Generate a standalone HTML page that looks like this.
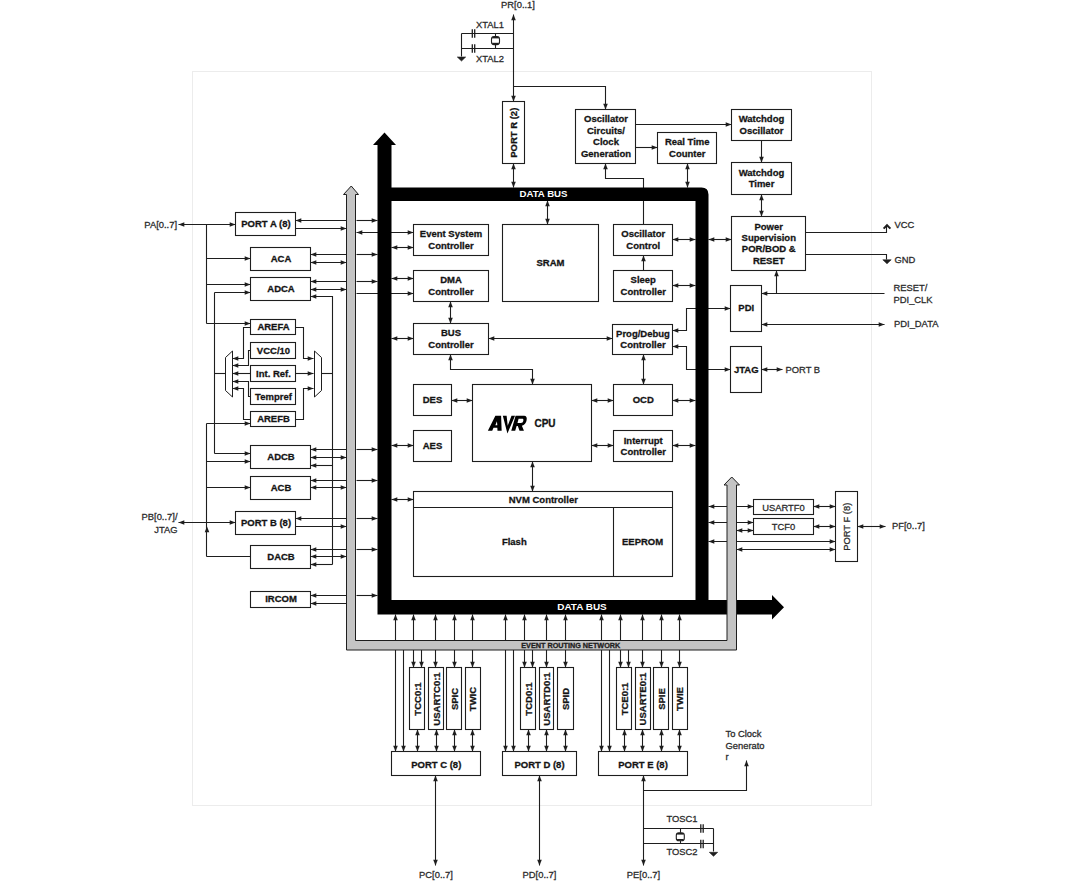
<!DOCTYPE html>
<html><head><meta charset="utf-8"><style>
html,body{margin:0;padding:0;background:#fff;}
body{width:1080px;height:882px;overflow:hidden;}
svg{display:block;font-family:"Liberation Sans",sans-serif;}
</style></head><body>
<svg width="1080" height="882" viewBox="0 0 1080 882">
<rect width="1080" height="882" fill="#fff"/>
<rect x="192.5" y="71.5" width="679" height="734" fill="none" stroke="#ececec" stroke-width="1"/>
<text x="177" y="228" font-size="9.4" text-anchor="end" fill="#2b2b2b" stroke="#2b2b2b" stroke-width="0.28">PA[0..7]</text>
<polyline points="178.5,224.5 235.5,224.5" fill="none" stroke="#1e1e1e" stroke-width="1.1"/>
<polygon points="178.5,224.5 184.3,222.2 184.3,226.8" fill="#1e1e1e"/>
<polygon points="235.5,224.5 229.7,226.8 229.7,222.2" fill="#1e1e1e"/>
<polyline points="206.5,224.5 206.5,323.5" fill="none" stroke="#1e1e1e" stroke-width="1.1"/>
<polyline points="206.5,258.5 250.5,258.5" fill="none" stroke="#1e1e1e" stroke-width="1.1"/>
<polygon points="250.5,258.5 244.7,260.8 244.7,256.2" fill="#1e1e1e"/>
<polyline points="206.5,284.5 250.5,284.5" fill="none" stroke="#1e1e1e" stroke-width="1.1"/>
<polygon points="250.5,284.5 244.7,286.8 244.7,282.2" fill="#1e1e1e"/>
<polyline points="206.5,323.5 250.5,323.5" fill="none" stroke="#1e1e1e" stroke-width="1.1"/>
<polygon points="250.5,323.5 244.7,325.8 244.7,321.2" fill="#1e1e1e"/>
<polyline points="214.5,292.5 214.5,453.5" fill="none" stroke="#1e1e1e" stroke-width="1.1"/>
<polyline points="214.5,292.5 250.5,292.5" fill="none" stroke="#1e1e1e" stroke-width="1.1"/>
<polygon points="250.5,292.5 244.7,294.8 244.7,290.2" fill="#1e1e1e"/>
<polyline points="214.5,373.5 225.5,373.5" fill="none" stroke="#1e1e1e" stroke-width="1.1"/>
<polyline points="214.5,453.5 250.5,453.5" fill="none" stroke="#1e1e1e" stroke-width="1.1"/>
<polygon points="250.5,453.5 244.7,455.8 244.7,451.2" fill="#1e1e1e"/>
<polyline points="206.5,423.5 206.5,556.5" fill="none" stroke="#1e1e1e" stroke-width="1.1"/>
<polyline points="206.5,423.5 250.5,423.5" fill="none" stroke="#1e1e1e" stroke-width="1.1"/>
<polygon points="250.5,423.5 244.7,425.8 244.7,421.2" fill="#1e1e1e"/>
<polyline points="206.5,461.5 250.5,461.5" fill="none" stroke="#1e1e1e" stroke-width="1.1"/>
<polygon points="250.5,461.5 244.7,463.8 244.7,459.2" fill="#1e1e1e"/>
<polyline points="206.5,487.5 250.5,487.5" fill="none" stroke="#1e1e1e" stroke-width="1.1"/>
<polygon points="250.5,487.5 244.7,489.8 244.7,485.2" fill="#1e1e1e"/>
<polyline points="250.5,556.5 206.5,556.5" fill="none" stroke="#1e1e1e" stroke-width="1.1"/>
<polygon points="207,526.5 209.3,532.3 204.7,532.3" fill="#1e1e1e"/>
<text x="177.5" y="520" font-size="9.4" text-anchor="end" fill="#2b2b2b" stroke="#2b2b2b" stroke-width="0.28">PB[0..7]/</text>
<text x="177.5" y="532.5" font-size="9.4" text-anchor="end" fill="#2b2b2b" stroke="#2b2b2b" stroke-width="0.28">JTAG</text>
<polyline points="178.5,522.5 235.5,522.5" fill="none" stroke="#1e1e1e" stroke-width="1.1"/>
<polygon points="178.5,522.5 184.3,520.2 184.3,524.8" fill="#1e1e1e"/>
<polygon points="235.5,522.5 229.7,524.8 229.7,520.2" fill="#1e1e1e"/>
<polyline points="295.5,220.5 346.5,220.5" fill="none" stroke="#1e1e1e" stroke-width="1.1"/>
<polygon points="295.5,220.5 301.3,218.2 301.3,222.8" fill="#1e1e1e"/>
<polyline points="295.5,228.5 346.5,228.5" fill="none" stroke="#1e1e1e" stroke-width="1.1"/>
<polygon points="346.5,228.5 340.7,230.8 340.7,226.2" fill="#1e1e1e"/>
<polyline points="310.5,254.5 346.5,254.5" fill="none" stroke="#1e1e1e" stroke-width="1.1"/>
<polygon points="310.5,254.5 316.3,252.2 316.3,256.8" fill="#1e1e1e"/>
<polyline points="310.5,262.5 346.5,262.5" fill="none" stroke="#1e1e1e" stroke-width="1.1"/>
<polygon points="310.5,262.5 316.3,260.2 316.3,264.8" fill="#1e1e1e"/>
<polygon points="346.5,262.5 340.7,264.8 340.7,260.2" fill="#1e1e1e"/>
<polyline points="310.5,281.5 346.5,281.5" fill="none" stroke="#1e1e1e" stroke-width="1.1"/>
<polygon points="310.5,281.5 316.3,279.2 316.3,283.8" fill="#1e1e1e"/>
<polyline points="310.5,289.5 346.5,289.5" fill="none" stroke="#1e1e1e" stroke-width="1.1"/>
<polygon points="310.5,289.5 316.3,287.2 316.3,291.8" fill="#1e1e1e"/>
<polygon points="346.5,289.5 340.7,291.8 340.7,287.2" fill="#1e1e1e"/>
<polyline points="332.5,564.5 332.5,296.5 310.5,296.5" fill="none" stroke="#1e1e1e" stroke-width="1.1"/>
<polygon points="310.5,296.5 316.3,294.2 316.3,298.8" fill="#1e1e1e"/>
<polyline points="321.5,373.5 332.5,373.5" fill="none" stroke="#1e1e1e" stroke-width="1.1"/>
<polyline points="310.5,449.5 346.5,449.5" fill="none" stroke="#1e1e1e" stroke-width="1.1"/>
<polygon points="310.5,449.5 316.3,447.2 316.3,451.8" fill="#1e1e1e"/>
<polyline points="310.5,457.5 346.5,457.5" fill="none" stroke="#1e1e1e" stroke-width="1.1"/>
<polygon points="310.5,457.5 316.3,455.2 316.3,459.8" fill="#1e1e1e"/>
<polygon points="346.5,457.5 340.7,459.8 340.7,455.2" fill="#1e1e1e"/>
<polyline points="310.5,465.5 332.5,465.5" fill="none" stroke="#1e1e1e" stroke-width="1.1"/>
<polygon points="310.5,465.5 316.3,463.2 316.3,467.8" fill="#1e1e1e"/>
<polyline points="310.5,480.5 346.5,480.5" fill="none" stroke="#1e1e1e" stroke-width="1.1"/>
<polygon points="310.5,480.5 316.3,478.2 316.3,482.8" fill="#1e1e1e"/>
<polyline points="310.5,487.5 346.5,487.5" fill="none" stroke="#1e1e1e" stroke-width="1.1"/>
<polygon points="310.5,487.5 316.3,485.2 316.3,489.8" fill="#1e1e1e"/>
<polygon points="346.5,487.5 340.7,489.8 340.7,485.2" fill="#1e1e1e"/>
<polyline points="295.5,518.5 346.5,518.5" fill="none" stroke="#1e1e1e" stroke-width="1.1"/>
<polygon points="295.5,518.5 301.3,516.2 301.3,520.8" fill="#1e1e1e"/>
<polyline points="295.5,526.5 346.5,526.5" fill="none" stroke="#1e1e1e" stroke-width="1.1"/>
<polygon points="346.5,526.5 340.7,528.8 340.7,524.2" fill="#1e1e1e"/>
<polyline points="310.5,549.5 346.5,549.5" fill="none" stroke="#1e1e1e" stroke-width="1.1"/>
<polygon points="310.5,549.5 316.3,547.2 316.3,551.8" fill="#1e1e1e"/>
<polyline points="310.5,556.5 346.5,556.5" fill="none" stroke="#1e1e1e" stroke-width="1.1"/>
<polygon points="310.5,556.5 316.3,554.2 316.3,558.8" fill="#1e1e1e"/>
<polygon points="346.5,556.5 340.7,558.8 340.7,554.2" fill="#1e1e1e"/>
<polyline points="310.5,564.5 332.5,564.5" fill="none" stroke="#1e1e1e" stroke-width="1.1"/>
<polygon points="310.5,564.5 316.3,562.2 316.3,566.8" fill="#1e1e1e"/>
<polyline points="310.5,595.5 346.5,595.5" fill="none" stroke="#1e1e1e" stroke-width="1.1"/>
<polygon points="310.5,595.5 316.3,593.2 316.3,597.8" fill="#1e1e1e"/>
<polyline points="310.5,603.5 346.5,603.5" fill="none" stroke="#1e1e1e" stroke-width="1.1"/>
<polygon points="310.5,603.5 316.3,601.2 316.3,605.8" fill="#1e1e1e"/>
<polyline points="356.5,220.5 377.5,220.5" fill="none" stroke="#1e1e1e" stroke-width="1.1"/>
<polygon points="377.5,220.5 371.7,222.8 371.7,218.2" fill="#1e1e1e"/>
<polyline points="356.5,254.5 377.5,254.5" fill="none" stroke="#1e1e1e" stroke-width="1.1"/>
<polygon points="377.5,254.5 371.7,256.8 371.7,252.2" fill="#1e1e1e"/>
<polyline points="356.5,281.5 377.5,281.5" fill="none" stroke="#1e1e1e" stroke-width="1.1"/>
<polygon points="377.5,281.5 371.7,283.8 371.7,279.2" fill="#1e1e1e"/>
<polyline points="356.5,449.5 377.5,449.5" fill="none" stroke="#1e1e1e" stroke-width="1.1"/>
<polygon points="377.5,449.5 371.7,451.8 371.7,447.2" fill="#1e1e1e"/>
<polyline points="356.5,480.5 377.5,480.5" fill="none" stroke="#1e1e1e" stroke-width="1.1"/>
<polygon points="377.5,480.5 371.7,482.8 371.7,478.2" fill="#1e1e1e"/>
<polyline points="356.5,518.5 377.5,518.5" fill="none" stroke="#1e1e1e" stroke-width="1.1"/>
<polygon points="377.5,518.5 371.7,520.8 371.7,516.2" fill="#1e1e1e"/>
<polyline points="356.5,549.5 377.5,549.5" fill="none" stroke="#1e1e1e" stroke-width="1.1"/>
<polygon points="377.5,549.5 371.7,551.8 371.7,547.2" fill="#1e1e1e"/>
<polyline points="356.5,595.5 377.5,595.5" fill="none" stroke="#1e1e1e" stroke-width="1.1"/>
<polygon points="377.5,595.5 371.7,597.8 371.7,593.2" fill="#1e1e1e"/>
<polyline points="356.5,232.5 413.5,232.5" fill="none" stroke="#1e1e1e" stroke-width="1.1"/>
<polygon points="356.5,232.5 362.3,230.2 362.3,234.8" fill="#1e1e1e"/>
<polygon points="413.5,232.5 407.7,234.8 407.7,230.2" fill="#1e1e1e"/>
<polyline points="356.5,293.5 413.5,293.5" fill="none" stroke="#1e1e1e" stroke-width="1.1"/>
<polygon points="413.5,293.5 407.7,295.8 407.7,291.2" fill="#1e1e1e"/>
<polyline points="295.5,327.5 243.5,327.5 243.5,358.5 232.5,358.5" fill="none" stroke="#1e1e1e" stroke-width="1.1"/>
<polygon points="232.5,358.5 238.3,356.2 238.3,360.8" fill="#1e1e1e"/>
<polyline points="250.5,350.5 248.5,350.5 248.5,365.5 232.5,365.5" fill="none" stroke="#1e1e1e" stroke-width="1.1"/>
<polygon points="232.5,365.5 238.3,363.2 238.3,367.8" fill="#1e1e1e"/>
<polyline points="250.5,373.5 232.5,373.5" fill="none" stroke="#1e1e1e" stroke-width="1.1"/>
<polygon points="232.5,373.5 238.3,371.2 238.3,375.8" fill="#1e1e1e"/>
<polyline points="250.5,396.5 248.5,396.5 248.5,381.5 232.5,381.5" fill="none" stroke="#1e1e1e" stroke-width="1.1"/>
<polygon points="232.5,381.5 238.3,379.2 238.3,383.8" fill="#1e1e1e"/>
<polyline points="250.5,419.5 243.5,419.5 243.5,388.5 232.5,388.5" fill="none" stroke="#1e1e1e" stroke-width="1.1"/>
<polygon points="232.5,388.5 238.3,386.2 238.3,390.8" fill="#1e1e1e"/>
<polyline points="295.5,327.5 303.5,327.5 303.5,358.5 313.5,358.5" fill="none" stroke="#1e1e1e" stroke-width="1.1"/>
<polygon points="313.5,358.5 307.7,360.8 307.7,356.2" fill="#1e1e1e"/>
<polyline points="295.5,373.5 313.5,373.5" fill="none" stroke="#1e1e1e" stroke-width="1.1"/>
<polygon points="313.5,373.5 307.7,375.8 307.7,371.2" fill="#1e1e1e"/>
<polyline points="295.5,419.5 303.5,419.5 303.5,388.5 313.5,388.5" fill="none" stroke="#1e1e1e" stroke-width="1.1"/>
<polygon points="313.5,388.5 307.7,390.8 307.7,386.2" fill="#1e1e1e"/>
<polygon points="232.5,351 232.5,397 225.5,390.5 225.5,357.5" fill="#fff" stroke="#1e1e1e" stroke-width="1"/>
<polygon points="314.5,351 314.5,397 321.5,390.5 321.5,357.5" fill="#fff" stroke="#1e1e1e" stroke-width="1"/>
<polyline points="391.5,247.5 413.5,247.5" fill="none" stroke="#1e1e1e" stroke-width="1.1"/>
<polygon points="391.5,247.5 397.3,245.2 397.3,249.8" fill="#1e1e1e"/>
<polygon points="413.5,247.5 407.7,249.8 407.7,245.2" fill="#1e1e1e"/>
<polyline points="391.5,278.5 413.5,278.5" fill="none" stroke="#1e1e1e" stroke-width="1.1"/>
<polygon points="391.5,278.5 397.3,276.2 397.3,280.8" fill="#1e1e1e"/>
<polygon points="413.5,278.5 407.7,280.8 407.7,276.2" fill="#1e1e1e"/>
<polyline points="391.5,338.5 413.5,338.5" fill="none" stroke="#1e1e1e" stroke-width="1.1"/>
<polygon points="391.5,338.5 397.3,336.2 397.3,340.8" fill="#1e1e1e"/>
<polygon points="413.5,338.5 407.7,340.8 407.7,336.2" fill="#1e1e1e"/>
<polyline points="391.5,445.5 413.5,445.5" fill="none" stroke="#1e1e1e" stroke-width="1.1"/>
<polygon points="391.5,445.5 397.3,443.2 397.3,447.8" fill="#1e1e1e"/>
<polygon points="413.5,445.5 407.7,447.8 407.7,443.2" fill="#1e1e1e"/>
<polyline points="391.5,499.5 413.5,499.5" fill="none" stroke="#1e1e1e" stroke-width="1.1"/>
<polygon points="391.5,499.5 397.3,497.2 397.3,501.8" fill="#1e1e1e"/>
<polygon points="413.5,499.5 407.7,501.8 407.7,497.2" fill="#1e1e1e"/>
<polyline points="547.5,200.5 547.5,224.5" fill="none" stroke="#1e1e1e" stroke-width="1.1"/>
<polygon points="547.5,200.5 549.8,206.3 545.2,206.3" fill="#1e1e1e"/>
<polygon points="547.5,224.5 545.2,218.7 549.8,218.7" fill="#1e1e1e"/>
<polyline points="450.5,301.5 450.5,323.5" fill="none" stroke="#1e1e1e" stroke-width="1.1"/>
<polygon points="450.5,301.5 452.8,307.3 448.2,307.3" fill="#1e1e1e"/>
<polygon points="450.5,323.5 448.2,317.7 452.8,317.7" fill="#1e1e1e"/>
<polyline points="488.5,338.5 612.5,338.5" fill="none" stroke="#1e1e1e" stroke-width="1.1"/>
<polygon points="488.5,338.5 494.3,336.2 494.3,340.8" fill="#1e1e1e"/>
<polygon points="612.5,338.5 606.7,340.8 606.7,336.2" fill="#1e1e1e"/>
<polyline points="450.5,354.5 450.5,369.5 532.5,369.5 532.5,384.5" fill="none" stroke="#1e1e1e" stroke-width="1.1"/>
<polygon points="450.5,354.5 452.8,360.3 448.2,360.3" fill="#1e1e1e"/>
<polygon points="532.5,384.5 530.2,378.7 534.8,378.7" fill="#1e1e1e"/>
<polyline points="451.5,400.5 472.5,400.5" fill="none" stroke="#1e1e1e" stroke-width="1.1"/>
<polygon points="451.5,400.5 457.3,398.2 457.3,402.8" fill="#1e1e1e"/>
<polygon points="472.5,400.5 466.7,402.8 466.7,398.2" fill="#1e1e1e"/>
<polyline points="591.5,400.5 613.5,400.5" fill="none" stroke="#1e1e1e" stroke-width="1.1"/>
<polygon points="591.5,400.5 597.3,398.2 597.3,402.8" fill="#1e1e1e"/>
<polygon points="613.5,400.5 607.7,402.8 607.7,398.2" fill="#1e1e1e"/>
<polyline points="591.5,445.5 613.5,445.5" fill="none" stroke="#1e1e1e" stroke-width="1.1"/>
<polygon points="591.5,445.5 597.3,443.2 597.3,447.8" fill="#1e1e1e"/>
<polygon points="613.5,445.5 607.7,447.8 607.7,443.2" fill="#1e1e1e"/>
<polyline points="532.5,461.5 532.5,491.5" fill="none" stroke="#1e1e1e" stroke-width="1.1"/>
<polygon points="532.5,461.5 534.8,467.3 530.2,467.3" fill="#1e1e1e"/>
<polygon points="532.5,491.5 530.2,485.7 534.8,485.7" fill="#1e1e1e"/>
<polyline points="672.5,239.5 695.5,239.5" fill="none" stroke="#1e1e1e" stroke-width="1.1"/>
<polygon points="672.5,239.5 678.3,237.2 678.3,241.8" fill="#1e1e1e"/>
<polygon points="695.5,239.5 689.7,241.8 689.7,237.2" fill="#1e1e1e"/>
<polyline points="672.5,285.5 695.5,285.5" fill="none" stroke="#1e1e1e" stroke-width="1.1"/>
<polygon points="672.5,285.5 678.3,283.2 678.3,287.8" fill="#1e1e1e"/>
<polygon points="695.5,285.5 689.7,287.8 689.7,283.2" fill="#1e1e1e"/>
<polyline points="643.5,270.5 643.5,255.5" fill="none" stroke="#1e1e1e" stroke-width="1.1"/>
<polygon points="643.5,255.5 645.8,261.3 641.2,261.3" fill="#1e1e1e"/>
<polyline points="643.5,224.5 643.5,178.5 605.5,178.5 605.5,163.5" fill="none" stroke="#1e1e1e" stroke-width="1.1"/>
<polygon points="605.5,163.5 607.8,169.3 603.2,169.3" fill="#1e1e1e"/>
<polyline points="643.5,354.5 643.5,384.5" fill="none" stroke="#1e1e1e" stroke-width="1.1"/>
<polygon points="643.5,354.5 645.8,360.3 641.2,360.3" fill="#1e1e1e"/>
<polygon points="643.5,384.5 641.2,378.7 645.8,378.7" fill="#1e1e1e"/>
<polyline points="672.5,400.5 695.5,400.5" fill="none" stroke="#1e1e1e" stroke-width="1.1"/>
<polygon points="672.5,400.5 678.3,398.2 678.3,402.8" fill="#1e1e1e"/>
<polygon points="695.5,400.5 689.7,402.8 689.7,398.2" fill="#1e1e1e"/>
<polyline points="672.5,445.5 695.5,445.5" fill="none" stroke="#1e1e1e" stroke-width="1.1"/>
<polygon points="672.5,445.5 678.3,443.2 678.3,447.8" fill="#1e1e1e"/>
<polygon points="695.5,445.5 689.7,447.8 689.7,443.2" fill="#1e1e1e"/>
<polyline points="672.5,330.5 686.5,330.5 686.5,308.5 730.5,308.5" fill="none" stroke="#1e1e1e" stroke-width="1.1"/>
<polygon points="672.5,330.5 678.3,328.2 678.3,332.8" fill="#1e1e1e"/>
<polygon points="730.5,308.5 724.7,310.8 724.7,306.2" fill="#1e1e1e"/>
<polyline points="672.5,346.5 686.5,346.5 686.5,369.5 730.5,369.5" fill="none" stroke="#1e1e1e" stroke-width="1.1"/>
<polygon points="672.5,346.5 678.3,344.2 678.3,348.8" fill="#1e1e1e"/>
<polygon points="730.5,369.5 724.7,371.8 724.7,367.2" fill="#1e1e1e"/>
<text x="518" y="8" font-size="9.4" text-anchor="middle" fill="#2b2b2b" stroke="#2b2b2b" stroke-width="0.28">PR[0..1]</text>
<polyline points="513.5,14.5 513.5,101.5" fill="none" stroke="#1e1e1e" stroke-width="1.1"/>
<polygon points="513.5,14.5 515.8,20.3 511.2,20.3" fill="#1e1e1e"/>
<polygon points="513.5,101.5 511.2,95.7 515.8,95.7" fill="#1e1e1e"/>
<polyline points="461.5,33.5 513.5,33.5" fill="none" stroke="#1e1e1e" stroke-width="1.1"/>
<polyline points="461.5,48.5 513.5,48.5" fill="none" stroke="#1e1e1e" stroke-width="1.1"/>
<polyline points="461.5,33.5 461.5,56.5" fill="none" stroke="#1e1e1e" stroke-width="1.1"/>
<polygon points="457.3,57 465.7,57 461.5,61" fill="#1e1e1e" stroke="#1e1e1e" stroke-width="0.6"/>
<line x1="472.3" y1="29.2" x2="472.3" y2="37.8" stroke="#1e1e1e" stroke-width="1.3"/>
<line x1="474.7" y1="29.2" x2="474.7" y2="37.8" stroke="#1e1e1e" stroke-width="1.3"/>
<line x1="472.3" y1="44.2" x2="472.3" y2="52.8" stroke="#1e1e1e" stroke-width="1.3"/>
<line x1="474.7" y1="44.2" x2="474.7" y2="52.8" stroke="#1e1e1e" stroke-width="1.3"/>
<polyline points="495.5,33.5 495.5,48.5" fill="none" stroke="#1e1e1e" stroke-width="1.1"/>
<rect x="491.5" y="36.6" width="8" height="8" rx="2.6" fill="#fff" stroke="#1e1e1e" stroke-width="1.1"/>
<line x1="492.3" y1="37.6" x2="498.7" y2="37.6" stroke="#1e1e1e" stroke-width="1.6"/>
<line x1="492.3" y1="43.6" x2="498.7" y2="43.6" stroke="#1e1e1e" stroke-width="1.6"/>
<text x="490" y="27.5" font-size="9.4" text-anchor="middle" fill="#2b2b2b" stroke="#2b2b2b" stroke-width="0.28">XTAL1</text>
<text x="490" y="61.5" font-size="9.4" text-anchor="middle" fill="#2b2b2b" stroke="#2b2b2b" stroke-width="0.28">XTAL2</text>
<polyline points="513.5,86.5 605.5,86.5 605.5,109.5" fill="none" stroke="#1e1e1e" stroke-width="1.1"/>
<polygon points="605.5,109.5 603.2,103.7 607.8,103.7" fill="#1e1e1e"/>
<polyline points="513.5,163.5 513.5,187.5" fill="none" stroke="#1e1e1e" stroke-width="1.1"/>
<polygon points="513.5,163.5 515.8,169.3 511.2,169.3" fill="#1e1e1e"/>
<polygon points="513.5,187.5 511.2,181.7 515.8,181.7" fill="#1e1e1e"/>
<polyline points="635.5,124.5 731.5,124.5" fill="none" stroke="#1e1e1e" stroke-width="1.1"/>
<polygon points="731.5,124.5 725.7,126.8 725.7,122.2" fill="#1e1e1e"/>
<polyline points="635.5,147.5 657.5,147.5" fill="none" stroke="#1e1e1e" stroke-width="1.1"/>
<polygon points="657.5,147.5 651.7,149.8 651.7,145.2" fill="#1e1e1e"/>
<polyline points="687.5,163.5 687.5,187.5" fill="none" stroke="#1e1e1e" stroke-width="1.1"/>
<polygon points="687.5,163.5 689.8,169.3 685.2,169.3" fill="#1e1e1e"/>
<polygon points="687.5,187.5 685.2,181.7 689.8,181.7" fill="#1e1e1e"/>
<polyline points="761.5,140.5 761.5,162.5" fill="none" stroke="#1e1e1e" stroke-width="1.1"/>
<polygon points="761.5,162.5 759.2,156.7 763.8,156.7" fill="#1e1e1e"/>
<polyline points="761.5,194.5 761.5,216.5" fill="none" stroke="#1e1e1e" stroke-width="1.1"/>
<polygon points="761.5,194.5 763.8,200.3 759.2,200.3" fill="#1e1e1e"/>
<polygon points="761.5,216.5 759.2,210.7 763.8,210.7" fill="#1e1e1e"/>
<polyline points="708.5,239.5 731.5,239.5" fill="none" stroke="#1e1e1e" stroke-width="1.1"/>
<polygon points="708.5,239.5 714.3,237.2 714.3,241.8" fill="#1e1e1e"/>
<polygon points="731.5,239.5 725.7,241.8 725.7,237.2" fill="#1e1e1e"/>
<polyline points="805.5,232.5 886.5,232.5 886.5,225.5" fill="none" stroke="#1e1e1e" stroke-width="1.1"/>
<polyline points="883.6,228.6 887,225.2 890.4,228.6" fill="none" stroke="#1e1e1e" stroke-width="2"/>
<text x="894.5" y="228.2" font-size="9.4" text-anchor="start" fill="#2b2b2b" stroke="#2b2b2b" stroke-width="0.28">VCC</text>
<polyline points="805.5,254.5 886.5,254.5 886.5,259.5" fill="none" stroke="#1e1e1e" stroke-width="1.1"/>
<polygon points="882.8,259.8 891.2,259.8 887,263.8" fill="#1e1e1e" stroke="#1e1e1e" stroke-width="0.6"/>
<text x="894.5" y="263.2" font-size="9.4" text-anchor="start" fill="#2b2b2b" stroke="#2b2b2b" stroke-width="0.28">GND</text>
<polyline points="884.5,293.5 761.5,293.5" fill="none" stroke="#1e1e1e" stroke-width="1.1"/>
<polygon points="761.5,293.5 767.3,291.2 767.3,295.8" fill="#1e1e1e"/>
<polyline points="776.5,293.5 776.5,270.5" fill="none" stroke="#1e1e1e" stroke-width="1.1"/>
<polygon points="776.5,270.5 778.8,276.3 774.2,276.3" fill="#1e1e1e"/>
<text x="893.5" y="290.5" font-size="9.4" text-anchor="start" fill="#2b2b2b" stroke="#2b2b2b" stroke-width="0.28">RESET/</text>
<text x="893.5" y="303" font-size="9.4" text-anchor="start" fill="#2b2b2b" stroke="#2b2b2b" stroke-width="0.28">PDI_CLK</text>
<polyline points="761.5,324.5 884.5,324.5" fill="none" stroke="#1e1e1e" stroke-width="1.1"/>
<polygon points="761.5,324.5 767.3,322.2 767.3,326.8" fill="#1e1e1e"/>
<polygon points="884.5,324.5 878.7,326.8 878.7,322.2" fill="#1e1e1e"/>
<text x="894" y="327" font-size="9.4" text-anchor="start" fill="#2b2b2b" stroke="#2b2b2b" stroke-width="0.28">PDI_DATA</text>
<polyline points="761.5,369.5 782.5,369.5" fill="none" stroke="#1e1e1e" stroke-width="1.1"/>
<polygon points="761.5,369.5 767.3,367.2 767.3,371.8" fill="#1e1e1e"/>
<polygon points="782.5,369.5 776.7,371.8 776.7,367.2" fill="#1e1e1e"/>
<text x="785.5" y="372.5" font-size="9.4" text-anchor="start" fill="#2b2b2b" stroke="#2b2b2b" stroke-width="0.28">PORT B</text>
<polyline points="708.5,506.5 753.5,506.5" fill="none" stroke="#1e1e1e" stroke-width="1.1"/>
<polygon points="708.5,506.5 714.3,504.2 714.3,508.8" fill="#1e1e1e"/>
<polygon points="753.5,506.5 747.7,508.8 747.7,504.2" fill="#1e1e1e"/>
<polyline points="708.5,522.5 753.5,522.5" fill="none" stroke="#1e1e1e" stroke-width="1.1"/>
<polygon points="708.5,522.5 714.3,520.2 714.3,524.8" fill="#1e1e1e"/>
<polygon points="753.5,522.5 747.7,524.8 747.7,520.2" fill="#1e1e1e"/>
<polyline points="736.5,530.5 753.5,530.5" fill="none" stroke="#1e1e1e" stroke-width="1.1"/>
<polygon points="736.5,530.5 742.3,528.2 742.3,532.8" fill="#1e1e1e"/>
<polygon points="753.5,530.5 747.7,532.8 747.7,528.2" fill="#1e1e1e"/>
<polyline points="708.5,541.5 835.5,541.5" fill="none" stroke="#1e1e1e" stroke-width="1.1"/>
<polygon points="708.5,541.5 714.3,539.2 714.3,543.8" fill="#1e1e1e"/>
<polygon points="835.5,541.5 829.7,543.8 829.7,539.2" fill="#1e1e1e"/>
<polyline points="736.5,549.5 835.5,549.5" fill="none" stroke="#1e1e1e" stroke-width="1.1"/>
<polygon points="736.5,549.5 742.3,547.2 742.3,551.8" fill="#1e1e1e"/>
<polygon points="835.5,549.5 829.7,551.8 829.7,547.2" fill="#1e1e1e"/>
<polyline points="813.5,506.5 835.5,506.5" fill="none" stroke="#1e1e1e" stroke-width="1.1"/>
<polygon points="813.5,506.5 819.3,504.2 819.3,508.8" fill="#1e1e1e"/>
<polygon points="835.5,506.5 829.7,508.8 829.7,504.2" fill="#1e1e1e"/>
<polyline points="813.5,526.5 835.5,526.5" fill="none" stroke="#1e1e1e" stroke-width="1.1"/>
<polygon points="813.5,526.5 819.3,524.2 819.3,528.8" fill="#1e1e1e"/>
<polygon points="835.5,526.5 829.7,528.8 829.7,524.2" fill="#1e1e1e"/>
<polyline points="857.5,526.5 885.5,526.5" fill="none" stroke="#1e1e1e" stroke-width="1.1"/>
<polygon points="857.5,526.5 863.3,524.2 863.3,528.8" fill="#1e1e1e"/>
<polygon points="885.5,526.5 879.7,528.8 879.7,524.2" fill="#1e1e1e"/>
<text x="892" y="529.3" font-size="9.4" text-anchor="start" fill="#2b2b2b" stroke="#2b2b2b" stroke-width="0.28">PF[0..7]</text>
<polyline points="395.5,614.5 395.5,751.5" fill="none" stroke="#1e1e1e" stroke-width="1.1"/>
<polygon points="395.5,614.5 397.8,620.3 393.2,620.3" fill="#1e1e1e"/>
<polygon points="395.5,751.5 393.2,745.7 397.8,745.7" fill="#1e1e1e"/>
<polyline points="403.5,649.5 403.5,751.5" fill="none" stroke="#1e1e1e" stroke-width="1.1"/>
<polygon points="403.5,751.5 401.2,745.7 405.8,745.7" fill="#1e1e1e"/>
<polyline points="413.5,614.5 413.5,667.5" fill="none" stroke="#1e1e1e" stroke-width="1.1"/>
<polygon points="413.5,614.5 415.8,620.3 411.2,620.3" fill="#1e1e1e"/>
<polygon points="413.5,667.5 411.2,661.7 415.8,661.7" fill="#1e1e1e"/>
<polyline points="421.5,649.5 421.5,667.5" fill="none" stroke="#1e1e1e" stroke-width="1.1"/>
<polygon points="421.5,667.5 419.2,661.7 423.8,661.7" fill="#1e1e1e"/>
<polyline points="435.5,614.5 435.5,667.5" fill="none" stroke="#1e1e1e" stroke-width="1.1"/>
<polygon points="435.5,614.5 437.8,620.3 433.2,620.3" fill="#1e1e1e"/>
<polygon points="435.5,667.5 433.2,661.7 437.8,661.7" fill="#1e1e1e"/>
<polyline points="454.5,614.5 454.5,667.5" fill="none" stroke="#1e1e1e" stroke-width="1.1"/>
<polygon points="454.5,614.5 456.8,620.3 452.2,620.3" fill="#1e1e1e"/>
<polygon points="454.5,667.5 452.2,661.7 456.8,661.7" fill="#1e1e1e"/>
<polyline points="472.5,614.5 472.5,667.5" fill="none" stroke="#1e1e1e" stroke-width="1.1"/>
<polygon points="472.5,614.5 474.8,620.3 470.2,620.3" fill="#1e1e1e"/>
<polygon points="472.5,667.5 470.2,661.7 474.8,661.7" fill="#1e1e1e"/>
<polyline points="417.5,729.5 417.5,751.5" fill="none" stroke="#1e1e1e" stroke-width="1.1"/>
<polygon points="417.5,729.5 419.8,735.3 415.2,735.3" fill="#1e1e1e"/>
<polygon points="417.5,751.5 415.2,745.7 419.8,745.7" fill="#1e1e1e"/>
<polyline points="436.5,729.5 436.5,751.5" fill="none" stroke="#1e1e1e" stroke-width="1.1"/>
<polygon points="436.5,729.5 438.8,735.3 434.2,735.3" fill="#1e1e1e"/>
<polygon points="436.5,751.5 434.2,745.7 438.8,745.7" fill="#1e1e1e"/>
<polyline points="454.5,729.5 454.5,751.5" fill="none" stroke="#1e1e1e" stroke-width="1.1"/>
<polygon points="454.5,729.5 456.8,735.3 452.2,735.3" fill="#1e1e1e"/>
<polygon points="454.5,751.5 452.2,745.7 456.8,745.7" fill="#1e1e1e"/>
<polyline points="472.5,729.5 472.5,751.5" fill="none" stroke="#1e1e1e" stroke-width="1.1"/>
<polygon points="472.5,729.5 474.8,735.3 470.2,735.3" fill="#1e1e1e"/>
<polygon points="472.5,751.5 470.2,745.7 474.8,745.7" fill="#1e1e1e"/>
<polyline points="435.5,775.5 435.5,865.5" fill="none" stroke="#1e1e1e" stroke-width="1.1"/>
<polygon points="435.5,775.5 437.8,781.3 433.2,781.3" fill="#1e1e1e"/>
<polygon points="435.5,865.5 433.2,859.7 437.8,859.7" fill="#1e1e1e"/>
<text x="436" y="877.5" font-size="9.4" text-anchor="middle" fill="#2b2b2b" stroke="#2b2b2b" stroke-width="0.28">PC[0..7]</text>
<polyline points="505.5,614.5 505.5,751.5" fill="none" stroke="#1e1e1e" stroke-width="1.1"/>
<polygon points="505.5,614.5 507.8,620.3 503.2,620.3" fill="#1e1e1e"/>
<polygon points="505.5,751.5 503.2,745.7 507.8,745.7" fill="#1e1e1e"/>
<polyline points="513.5,649.5 513.5,751.5" fill="none" stroke="#1e1e1e" stroke-width="1.1"/>
<polygon points="513.5,751.5 511.2,745.7 515.8,745.7" fill="#1e1e1e"/>
<polyline points="524.5,614.5 524.5,667.5" fill="none" stroke="#1e1e1e" stroke-width="1.1"/>
<polygon points="524.5,614.5 526.8,620.3 522.2,620.3" fill="#1e1e1e"/>
<polygon points="524.5,667.5 522.2,661.7 526.8,661.7" fill="#1e1e1e"/>
<polyline points="532.5,649.5 532.5,667.5" fill="none" stroke="#1e1e1e" stroke-width="1.1"/>
<polygon points="532.5,667.5 530.2,661.7 534.8,661.7" fill="#1e1e1e"/>
<polyline points="546.5,614.5 546.5,667.5" fill="none" stroke="#1e1e1e" stroke-width="1.1"/>
<polygon points="546.5,614.5 548.8,620.3 544.2,620.3" fill="#1e1e1e"/>
<polygon points="546.5,667.5 544.2,661.7 548.8,661.7" fill="#1e1e1e"/>
<polyline points="565.5,614.5 565.5,667.5" fill="none" stroke="#1e1e1e" stroke-width="1.1"/>
<polygon points="565.5,614.5 567.8,620.3 563.2,620.3" fill="#1e1e1e"/>
<polygon points="565.5,667.5 563.2,661.7 567.8,661.7" fill="#1e1e1e"/>
<polyline points="528.5,729.5 528.5,751.5" fill="none" stroke="#1e1e1e" stroke-width="1.1"/>
<polygon points="528.5,729.5 530.8,735.3 526.2,735.3" fill="#1e1e1e"/>
<polygon points="528.5,751.5 526.2,745.7 530.8,745.7" fill="#1e1e1e"/>
<polyline points="546.5,729.5 546.5,751.5" fill="none" stroke="#1e1e1e" stroke-width="1.1"/>
<polygon points="546.5,729.5 548.8,735.3 544.2,735.3" fill="#1e1e1e"/>
<polygon points="546.5,751.5 544.2,745.7 548.8,745.7" fill="#1e1e1e"/>
<polyline points="565.5,729.5 565.5,751.5" fill="none" stroke="#1e1e1e" stroke-width="1.1"/>
<polygon points="565.5,729.5 567.8,735.3 563.2,735.3" fill="#1e1e1e"/>
<polygon points="565.5,751.5 563.2,745.7 567.8,745.7" fill="#1e1e1e"/>
<polyline points="539.5,775.5 539.5,865.5" fill="none" stroke="#1e1e1e" stroke-width="1.1"/>
<polygon points="539.5,775.5 541.8,781.3 537.2,781.3" fill="#1e1e1e"/>
<polygon points="539.5,865.5 537.2,859.7 541.8,859.7" fill="#1e1e1e"/>
<text x="539.5" y="877.5" font-size="9.4" text-anchor="middle" fill="#2b2b2b" stroke="#2b2b2b" stroke-width="0.28">PD[0..7]</text>
<polyline points="601.5,614.5 601.5,751.5" fill="none" stroke="#1e1e1e" stroke-width="1.1"/>
<polygon points="601.5,614.5 603.8,620.3 599.2,620.3" fill="#1e1e1e"/>
<polygon points="601.5,751.5 599.2,745.7 603.8,745.7" fill="#1e1e1e"/>
<polyline points="609.5,649.5 609.5,751.5" fill="none" stroke="#1e1e1e" stroke-width="1.1"/>
<polygon points="609.5,751.5 607.2,745.7 611.8,745.7" fill="#1e1e1e"/>
<polyline points="620.5,614.5 620.5,667.5" fill="none" stroke="#1e1e1e" stroke-width="1.1"/>
<polygon points="620.5,614.5 622.8,620.3 618.2,620.3" fill="#1e1e1e"/>
<polygon points="620.5,667.5 618.2,661.7 622.8,661.7" fill="#1e1e1e"/>
<polyline points="628.5,649.5 628.5,667.5" fill="none" stroke="#1e1e1e" stroke-width="1.1"/>
<polygon points="628.5,667.5 626.2,661.7 630.8,661.7" fill="#1e1e1e"/>
<polyline points="642.5,614.5 642.5,667.5" fill="none" stroke="#1e1e1e" stroke-width="1.1"/>
<polygon points="642.5,614.5 644.8,620.3 640.2,620.3" fill="#1e1e1e"/>
<polygon points="642.5,667.5 640.2,661.7 644.8,661.7" fill="#1e1e1e"/>
<polyline points="661.5,614.5 661.5,667.5" fill="none" stroke="#1e1e1e" stroke-width="1.1"/>
<polygon points="661.5,614.5 663.8,620.3 659.2,620.3" fill="#1e1e1e"/>
<polygon points="661.5,667.5 659.2,661.7 663.8,661.7" fill="#1e1e1e"/>
<polyline points="679.5,614.5 679.5,667.5" fill="none" stroke="#1e1e1e" stroke-width="1.1"/>
<polygon points="679.5,614.5 681.8,620.3 677.2,620.3" fill="#1e1e1e"/>
<polygon points="679.5,667.5 677.2,661.7 681.8,661.7" fill="#1e1e1e"/>
<polyline points="624.5,729.5 624.5,751.5" fill="none" stroke="#1e1e1e" stroke-width="1.1"/>
<polygon points="624.5,729.5 626.8,735.3 622.2,735.3" fill="#1e1e1e"/>
<polygon points="624.5,751.5 622.2,745.7 626.8,745.7" fill="#1e1e1e"/>
<polyline points="642.5,729.5 642.5,751.5" fill="none" stroke="#1e1e1e" stroke-width="1.1"/>
<polygon points="642.5,729.5 644.8,735.3 640.2,735.3" fill="#1e1e1e"/>
<polygon points="642.5,751.5 640.2,745.7 644.8,745.7" fill="#1e1e1e"/>
<polyline points="661.5,729.5 661.5,751.5" fill="none" stroke="#1e1e1e" stroke-width="1.1"/>
<polygon points="661.5,729.5 663.8,735.3 659.2,735.3" fill="#1e1e1e"/>
<polygon points="661.5,751.5 659.2,745.7 663.8,745.7" fill="#1e1e1e"/>
<polyline points="679.5,729.5 679.5,751.5" fill="none" stroke="#1e1e1e" stroke-width="1.1"/>
<polygon points="679.5,729.5 681.8,735.3 677.2,735.3" fill="#1e1e1e"/>
<polygon points="679.5,751.5 677.2,745.7 681.8,745.7" fill="#1e1e1e"/>
<polyline points="643.5,775.5 643.5,865.5" fill="none" stroke="#1e1e1e" stroke-width="1.1"/>
<polygon points="643.5,775.5 645.8,781.3 641.2,781.3" fill="#1e1e1e"/>
<polygon points="643.5,865.5 641.2,859.7 645.8,859.7" fill="#1e1e1e"/>
<text x="643.5" y="877.5" font-size="9.4" text-anchor="middle" fill="#2b2b2b" stroke="#2b2b2b" stroke-width="0.28">PE[0..7]</text>
<polyline points="643.5,790.5 746.5,790.5 746.5,760.5" fill="none" stroke="#1e1e1e" stroke-width="1.1"/>
<polygon points="746.5,760.5 748.8,766.3 744.2,766.3" fill="#1e1e1e"/>
<text x="725.5" y="736.5" font-size="9.4" text-anchor="start" fill="#2b2b2b" stroke="#2b2b2b" stroke-width="0.28">To Clock</text>
<text x="725.5" y="748.5" font-size="9.4" text-anchor="start" fill="#2b2b2b" stroke="#2b2b2b" stroke-width="0.28">Generato</text>
<text x="725.5" y="760" font-size="9.4" text-anchor="start" fill="#2b2b2b" stroke="#2b2b2b" stroke-width="0.28">r</text>
<polyline points="643.5,828.5 713.5,828.5" fill="none" stroke="#1e1e1e" stroke-width="1.1"/>
<polyline points="643.5,843.5 713.5,843.5" fill="none" stroke="#1e1e1e" stroke-width="1.1"/>
<polyline points="713.5,828.5 713.5,851.5" fill="none" stroke="#1e1e1e" stroke-width="1.1"/>
<polygon points="709.3,852.3 717.7,852.3 713.5,856.3" fill="#1e1e1e" stroke="#1e1e1e" stroke-width="0.6"/>
<line x1="700.8" y1="824.2" x2="700.8" y2="832.8" stroke="#1e1e1e" stroke-width="1.3"/>
<line x1="703.2" y1="824.2" x2="703.2" y2="832.8" stroke="#1e1e1e" stroke-width="1.3"/>
<line x1="700.8" y1="839.7" x2="700.8" y2="848.3" stroke="#1e1e1e" stroke-width="1.3"/>
<line x1="703.2" y1="839.7" x2="703.2" y2="848.3" stroke="#1e1e1e" stroke-width="1.3"/>
<polyline points="680.5,828.5 680.5,843.5" fill="none" stroke="#1e1e1e" stroke-width="1.1"/>
<rect x="676.3" y="832.8" width="8" height="8" rx="2.6" fill="#fff" stroke="#1e1e1e" stroke-width="1.1"/>
<line x1="677.1" y1="833.8" x2="683.5" y2="833.8" stroke="#1e1e1e" stroke-width="1.6"/>
<line x1="677.1" y1="839.8" x2="683.5" y2="839.8" stroke="#1e1e1e" stroke-width="1.6"/>
<text x="682" y="821.8" font-size="9.4" text-anchor="middle" fill="#2b2b2b" stroke="#2b2b2b" stroke-width="0.28">TOSC1</text>
<text x="682" y="855.3" font-size="9.4" text-anchor="middle" fill="#2b2b2b" stroke="#2b2b2b" stroke-width="0.28">TOSC2</text>
<path d="M373,145 L384.5,132.5 L396,145 L391.5,145 L391.5,187.5 L701.5,187.5 Q708.5,187.5 708.5,194.5 L708.5,600 L772,600 L772,595 L784,607.25 L772,619.5 L772,614.5 L377.5,614.5 L377.5,145 Z M391.5,201 L391.5,600 L695.5,600 L695.5,201 Z" fill="#000" fill-rule="evenodd"/>
<text x="543.5" y="197" font-size="9.5" font-weight="bold" text-anchor="middle" fill="#fff" textLength="48" lengthAdjust="spacingAndGlyphs">DATA BUS</text>
<text x="582" y="610.3" font-size="9.5" font-weight="bold" text-anchor="middle" fill="#fff" textLength="49.5" lengthAdjust="spacingAndGlyphs">DATA BUS</text>
<path d="M351.25,186 L358.5,194.5 L355.5,194.5 L355.5,640.5 L727,640.5 L727,485 L724,485 L731.75,477 L739.5,485 L736.5,485 L736.5,650 L346.5,650 L346.5,194.5 L343.5,194.5 Z" fill="#c4c4c4" stroke="#1e1e1e" stroke-width="1"/>
<text x="570.75" y="647.6" font-size="6.8" font-weight="bold" text-anchor="middle" fill="#222" stroke="#222" stroke-width="0.28" textLength="99" lengthAdjust="spacingAndGlyphs">EVENT ROUTING NETWORK</text>
<rect x="235.5" y="212.5" width="60" height="23" fill="#fff" stroke="#1e1e1e" stroke-width="1.1"/>
<text x="266" y="227.07" font-size="9.5" font-weight="bold" text-anchor="middle" fill="#141414" stroke="#141414" stroke-width="0.28">PORT A (8)</text>
<rect x="250.5" y="247.5" width="60" height="23" fill="#fff" stroke="#1e1e1e" stroke-width="1.1"/>
<text x="281" y="262.07" font-size="9.5" font-weight="bold" text-anchor="middle" fill="#141414" stroke="#141414" stroke-width="0.28">ACA</text>
<rect x="250.5" y="277.5" width="60" height="23" fill="#fff" stroke="#1e1e1e" stroke-width="1.1"/>
<text x="281" y="292.32" font-size="9.5" font-weight="bold" text-anchor="middle" fill="#141414" stroke="#141414" stroke-width="0.28">ADCA</text>
<rect x="250.5" y="319.5" width="45" height="15" fill="#fff" stroke="#1e1e1e" stroke-width="1.1"/>
<text x="273.5" y="330.32" font-size="9.5" font-weight="bold" text-anchor="middle" fill="#141414" stroke="#141414" stroke-width="0.28">AREFA</text>
<rect x="250.5" y="342.5" width="45" height="16" fill="#fff" stroke="#1e1e1e" stroke-width="1.1"/>
<text x="273.5" y="353.57" font-size="9.5" font-weight="bold" text-anchor="middle" fill="#141414" stroke="#141414" stroke-width="0.28">VCC/10</text>
<rect x="250.5" y="365.5" width="45" height="16" fill="#fff" stroke="#1e1e1e" stroke-width="1.1"/>
<text x="273.5" y="376.57" font-size="9.5" font-weight="bold" text-anchor="middle" fill="#141414" stroke="#141414" stroke-width="0.28">Int. Ref.</text>
<rect x="250.5" y="388.5" width="45" height="16" fill="#fff" stroke="#1e1e1e" stroke-width="1.1"/>
<text x="273.5" y="399.57" font-size="9.5" font-weight="bold" text-anchor="middle" fill="#141414" stroke="#141414" stroke-width="0.28">Tempref</text>
<rect x="250.5" y="411.5" width="45" height="15" fill="#fff" stroke="#1e1e1e" stroke-width="1.1"/>
<text x="273.5" y="422.32" font-size="9.5" font-weight="bold" text-anchor="middle" fill="#141414" stroke="#141414" stroke-width="0.28">AREFB</text>
<rect x="250.5" y="445.5" width="60" height="23" fill="#fff" stroke="#1e1e1e" stroke-width="1.1"/>
<text x="281" y="460.32" font-size="9.5" font-weight="bold" text-anchor="middle" fill="#141414" stroke="#141414" stroke-width="0.28">ADCB</text>
<rect x="250.5" y="476.5" width="60" height="23" fill="#fff" stroke="#1e1e1e" stroke-width="1.1"/>
<text x="281" y="491.32" font-size="9.5" font-weight="bold" text-anchor="middle" fill="#141414" stroke="#141414" stroke-width="0.28">ACB</text>
<rect x="235.5" y="511.5" width="60" height="23" fill="#fff" stroke="#1e1e1e" stroke-width="1.1"/>
<text x="266" y="525.82" font-size="9.5" font-weight="bold" text-anchor="middle" fill="#141414" stroke="#141414" stroke-width="0.28">PORT B (8)</text>
<rect x="250.5" y="545.5" width="60" height="23" fill="#fff" stroke="#1e1e1e" stroke-width="1.1"/>
<text x="281" y="560.07" font-size="9.5" font-weight="bold" text-anchor="middle" fill="#141414" stroke="#141414" stroke-width="0.28">DACB</text>
<rect x="250.5" y="591.5" width="60" height="16" fill="#fff" stroke="#1e1e1e" stroke-width="1.1"/>
<text x="281" y="602.32" font-size="9.5" font-weight="bold" text-anchor="middle" fill="#141414" stroke="#141414" stroke-width="0.28">IRCOM</text>
<rect x="413.5" y="224.5" width="75" height="31" fill="#fff" stroke="#1e1e1e" stroke-width="1.1"/>
<text x="451" y="237.07" font-size="9.5" font-weight="bold" text-anchor="middle" fill="#141414" stroke="#141414" stroke-width="0.28">Event System</text>
<text x="451" y="248.57" font-size="9.5" font-weight="bold" text-anchor="middle" fill="#141414" stroke="#141414" stroke-width="0.28">Controller</text>
<rect x="413.5" y="270.5" width="75" height="31" fill="#fff" stroke="#1e1e1e" stroke-width="1.1"/>
<text x="451" y="283.07" font-size="9.5" font-weight="bold" text-anchor="middle" fill="#141414" stroke="#141414" stroke-width="0.28">DMA</text>
<text x="451" y="294.57" font-size="9.5" font-weight="bold" text-anchor="middle" fill="#141414" stroke="#141414" stroke-width="0.28">Controller</text>
<rect x="502.5" y="224.5" width="96" height="77" fill="#fff" stroke="#1e1e1e" stroke-width="1.1"/>
<text x="550.5" y="265.82" font-size="9.5" font-weight="bold" text-anchor="middle" fill="#141414" stroke="#141414" stroke-width="0.28">SRAM</text>
<rect x="613.5" y="224.5" width="59" height="31" fill="#fff" stroke="#1e1e1e" stroke-width="1.1"/>
<text x="643.25" y="237.07" font-size="9.5" font-weight="bold" text-anchor="middle" fill="#141414" stroke="#141414" stroke-width="0.28">Oscillator</text>
<text x="643.25" y="248.57" font-size="9.5" font-weight="bold" text-anchor="middle" fill="#141414" stroke="#141414" stroke-width="0.28">Control</text>
<rect x="613.5" y="270.5" width="59" height="31" fill="#fff" stroke="#1e1e1e" stroke-width="1.1"/>
<text x="643.25" y="283.07" font-size="9.5" font-weight="bold" text-anchor="middle" fill="#141414" stroke="#141414" stroke-width="0.28">Sleep</text>
<text x="643.25" y="294.57" font-size="9.5" font-weight="bold" text-anchor="middle" fill="#141414" stroke="#141414" stroke-width="0.28">Controller</text>
<rect x="413.5" y="323.5" width="75" height="31" fill="#fff" stroke="#1e1e1e" stroke-width="1.1"/>
<text x="451" y="336.32" font-size="9.5" font-weight="bold" text-anchor="middle" fill="#141414" stroke="#141414" stroke-width="0.28">BUS</text>
<text x="451" y="347.82" font-size="9.5" font-weight="bold" text-anchor="middle" fill="#141414" stroke="#141414" stroke-width="0.28">Controller</text>
<rect x="612.5" y="324.5" width="60" height="30" fill="#fff" stroke="#1e1e1e" stroke-width="1.1"/>
<text x="643" y="336.82" font-size="9.5" font-weight="bold" text-anchor="middle" fill="#141414" stroke="#141414" stroke-width="0.28">Prog/Debug</text>
<text x="643" y="348.32" font-size="9.5" font-weight="bold" text-anchor="middle" fill="#141414" stroke="#141414" stroke-width="0.28">Controller</text>
<rect x="413.5" y="384.5" width="38" height="31" fill="#fff" stroke="#1e1e1e" stroke-width="1.1"/>
<text x="432.5" y="403.32" font-size="9.5" font-weight="bold" text-anchor="middle" fill="#141414" stroke="#141414" stroke-width="0.28">DES</text>
<rect x="413.5" y="430.5" width="38" height="31" fill="#fff" stroke="#1e1e1e" stroke-width="1.1"/>
<text x="432.5" y="449.32" font-size="9.5" font-weight="bold" text-anchor="middle" fill="#141414" stroke="#141414" stroke-width="0.28">AES</text>
<rect x="472.5" y="384.5" width="119" height="77" fill="#fff" stroke="#1e1e1e" stroke-width="1.1"/>
<g transform="translate(480 405) scale(0.07874)" fill="#000"><path d="M100,328 L195,138 L268,138 L275,328 L222,328 L220,290 L172,290 L155,328 Z M195,258 L215,205 L220,258 Z" fill-rule="evenodd"/><path d="M290,138 L338,138 L352,262 L400,138 L445,138 L348,362 Z"/><path d="M452,138 L560,138 Q602,140 592,195 Q582,252 532,262 L558,328 L502,328 L480,268 L465,268 L447,328 L397,328 Z M490,175 L543,175 Q556,178 550,202 Q545,226 520,228 L476,228 Z" fill-rule="evenodd"/></g>
<text x="545" y="426.5" font-size="10" font-weight="bold" text-anchor="middle" fill="#141414" stroke="#141414" stroke-width="0.28">CPU</text>
<rect x="613.5" y="384.5" width="59" height="31" fill="#fff" stroke="#1e1e1e" stroke-width="1.1"/>
<text x="643.25" y="403.32" font-size="9.5" font-weight="bold" text-anchor="middle" fill="#141414" stroke="#141414" stroke-width="0.28">OCD</text>
<rect x="613.5" y="430.5" width="59" height="31" fill="#fff" stroke="#1e1e1e" stroke-width="1.1"/>
<text x="643.25" y="443.57" font-size="9.5" font-weight="bold" text-anchor="middle" fill="#141414" stroke="#141414" stroke-width="0.28">Interrupt</text>
<text x="643.25" y="455.07" font-size="9.5" font-weight="bold" text-anchor="middle" fill="#141414" stroke="#141414" stroke-width="0.28">Controller</text>
<rect x="413.5" y="491.5" width="259" height="85" fill="#fff" stroke="#1e1e1e" stroke-width="1.1"/>
<polyline points="413.5,507.5 672.5,507.5" fill="none" stroke="#1e1e1e" stroke-width="1.1"/>
<polyline points="613.5,507.5 613.5,576.5" fill="none" stroke="#1e1e1e" stroke-width="1.1"/>
<text x="543.3" y="503" font-size="9.5" font-weight="bold" text-anchor="middle" fill="#141414" stroke="#141414" stroke-width="0.28">NVM Controller</text>
<text x="514.3" y="545" font-size="9.5" font-weight="bold" text-anchor="middle" fill="#141414" stroke="#141414" stroke-width="0.28">Flash</text>
<text x="642.6" y="545" font-size="9.5" font-weight="bold" text-anchor="middle" fill="#141414" stroke="#141414" stroke-width="0.28">EEPROM</text>
<rect x="502.5" y="101.5" width="22" height="62" fill="#fff" stroke="#1e1e1e" stroke-width="1.1"/>
<text x="517" y="132.75" font-size="9.5" font-weight="bold" text-anchor="middle" fill="#141414" stroke="#141414" stroke-width="0.28" transform="rotate(-90 517 132.75)">PORT R (2)</text>
<rect x="575.5" y="109.5" width="60" height="54" fill="#fff" stroke="#1e1e1e" stroke-width="1.1"/>
<text x="606" y="122.07" font-size="9.5" font-weight="bold" text-anchor="middle" fill="#141414" stroke="#141414" stroke-width="0.28">Oscillator</text>
<text x="606" y="133.57" font-size="9.5" font-weight="bold" text-anchor="middle" fill="#141414" stroke="#141414" stroke-width="0.28">Circuits/</text>
<text x="606" y="145.07" font-size="9.5" font-weight="bold" text-anchor="middle" fill="#141414" stroke="#141414" stroke-width="0.28">Clock</text>
<text x="606" y="156.57" font-size="9.5" font-weight="bold" text-anchor="middle" fill="#141414" stroke="#141414" stroke-width="0.28">Generation</text>
<rect x="657.5" y="132.5" width="59" height="31" fill="#fff" stroke="#1e1e1e" stroke-width="1.1"/>
<text x="687.25" y="145.07" font-size="9.5" font-weight="bold" text-anchor="middle" fill="#141414" stroke="#141414" stroke-width="0.28">Real Time</text>
<text x="687.25" y="156.57" font-size="9.5" font-weight="bold" text-anchor="middle" fill="#141414" stroke="#141414" stroke-width="0.28">Counter</text>
<rect x="731.5" y="109.5" width="60" height="31" fill="#fff" stroke="#1e1e1e" stroke-width="1.1"/>
<text x="761.5" y="122.07" font-size="9.5" font-weight="bold" text-anchor="middle" fill="#141414" stroke="#141414" stroke-width="0.28">Watchdog</text>
<text x="761.5" y="133.57" font-size="9.5" font-weight="bold" text-anchor="middle" fill="#141414" stroke="#141414" stroke-width="0.28">Oscillator</text>
<rect x="731.5" y="162.5" width="60" height="32" fill="#fff" stroke="#1e1e1e" stroke-width="1.1"/>
<text x="761.5" y="175.82" font-size="9.5" font-weight="bold" text-anchor="middle" fill="#141414" stroke="#141414" stroke-width="0.28">Watchdog</text>
<text x="761.5" y="187.32" font-size="9.5" font-weight="bold" text-anchor="middle" fill="#141414" stroke="#141414" stroke-width="0.28">Timer</text>
<rect x="731.5" y="216.5" width="74" height="54" fill="#fff" stroke="#1e1e1e" stroke-width="1.1"/>
<text x="768.75" y="229.87" font-size="9.5" font-weight="bold" text-anchor="middle" fill="#141414" stroke="#141414" stroke-width="0.28">Power</text>
<text x="768.75" y="241.17" font-size="9.5" font-weight="bold" text-anchor="middle" fill="#141414" stroke="#141414" stroke-width="0.28">Supervision</text>
<text x="768.75" y="252.47" font-size="9.5" font-weight="bold" text-anchor="middle" fill="#141414" stroke="#141414" stroke-width="0.28">POR/BOD &amp;</text>
<text x="768.75" y="263.77" font-size="9.5" font-weight="bold" text-anchor="middle" fill="#141414" stroke="#141414" stroke-width="0.28">RESET</text>
<rect x="730.5" y="285.5" width="31" height="46" fill="#fff" stroke="#1e1e1e" stroke-width="1.1"/>
<text x="746.25" y="311.32" font-size="9.5" font-weight="bold" text-anchor="middle" fill="#141414" stroke="#141414" stroke-width="0.28">PDI</text>
<rect x="730.5" y="346.5" width="31" height="46" fill="#fff" stroke="#1e1e1e" stroke-width="1.1"/>
<text x="746.25" y="372.82" font-size="9.5" font-weight="bold" text-anchor="middle" fill="#141414" stroke="#141414" stroke-width="0.28">JTAG</text>
<rect x="753.5" y="499.5" width="60" height="15" fill="#fff" stroke="#1e1e1e" stroke-width="1.1"/>
<text x="783.5" y="510.58" font-size="9.4" text-anchor="middle" fill="#2b2b2b" stroke="#2b2b2b" stroke-width="0.28">USARTF0</text>
<rect x="753.5" y="518.5" width="60" height="16" fill="#fff" stroke="#1e1e1e" stroke-width="1.1"/>
<text x="783.5" y="529.78" font-size="9.4" text-anchor="middle" fill="#2b2b2b" stroke="#2b2b2b" stroke-width="0.28">TCF0</text>
<rect x="835.5" y="491.5" width="22" height="70" fill="#fff" stroke="#1e1e1e" stroke-width="1.1"/>
<text x="850.3" y="526.75" font-size="9.4" text-anchor="middle" fill="#2b2b2b" stroke="#2b2b2b" stroke-width="0.28" transform="rotate(-90 850.3 526.75)">PORT F (8)</text>
<rect x="391.5" y="751.5" width="89" height="24" fill="#fff" stroke="#1e1e1e" stroke-width="1.1"/>
<text x="436.25" y="767.6" font-size="9.5" font-weight="bold" text-anchor="middle" fill="#141414" stroke="#141414" stroke-width="0.28">PORT C (8)</text>
<rect x="409.5" y="667.5" width="15" height="62" fill="#fff" stroke="#1e1e1e" stroke-width="1.1"/>
<text x="420.9" y="699" font-size="9.5" font-weight="bold" text-anchor="middle" fill="#141414" stroke="#141414" stroke-width="0.28" transform="rotate(-90 420.9 699)">TCC0:1</text>
<rect x="428.5" y="667.5" width="15" height="62" fill="#fff" stroke="#1e1e1e" stroke-width="1.1"/>
<text x="439.65" y="699" font-size="9.5" font-weight="bold" text-anchor="middle" fill="#141414" stroke="#141414" stroke-width="0.28" transform="rotate(-90 439.65 699)">USARTC0:1</text>
<rect x="446.5" y="667.5" width="15" height="62" fill="#fff" stroke="#1e1e1e" stroke-width="1.1"/>
<text x="457.9" y="699" font-size="9.5" font-weight="bold" text-anchor="middle" fill="#141414" stroke="#141414" stroke-width="0.28" transform="rotate(-90 457.9 699)">SPIC</text>
<rect x="465.5" y="667.5" width="15" height="62" fill="#fff" stroke="#1e1e1e" stroke-width="1.1"/>
<text x="476.4" y="699" font-size="9.5" font-weight="bold" text-anchor="middle" fill="#141414" stroke="#141414" stroke-width="0.28" transform="rotate(-90 476.4 699)">TWIC</text>
<rect x="502.5" y="751.5" width="74" height="24" fill="#fff" stroke="#1e1e1e" stroke-width="1.1"/>
<text x="539.5" y="767.6" font-size="9.5" font-weight="bold" text-anchor="middle" fill="#141414" stroke="#141414" stroke-width="0.28">PORT D (8)</text>
<rect x="520.5" y="667.5" width="15" height="62" fill="#fff" stroke="#1e1e1e" stroke-width="1.1"/>
<text x="531.9" y="699" font-size="9.5" font-weight="bold" text-anchor="middle" fill="#141414" stroke="#141414" stroke-width="0.28" transform="rotate(-90 531.9 699)">TCD0:1</text>
<rect x="539.5" y="667.5" width="14" height="62" fill="#fff" stroke="#1e1e1e" stroke-width="1.1"/>
<text x="550.15" y="699" font-size="9.5" font-weight="bold" text-anchor="middle" fill="#141414" stroke="#141414" stroke-width="0.28" transform="rotate(-90 550.15 699)">USARTD0:1</text>
<rect x="557.5" y="667.5" width="16" height="62" fill="#fff" stroke="#1e1e1e" stroke-width="1.1"/>
<text x="569.15" y="699" font-size="9.5" font-weight="bold" text-anchor="middle" fill="#141414" stroke="#141414" stroke-width="0.28" transform="rotate(-90 569.15 699)">SPID</text>
<rect x="598.5" y="751.5" width="89" height="24" fill="#fff" stroke="#1e1e1e" stroke-width="1.1"/>
<text x="643" y="767.6" font-size="9.5" font-weight="bold" text-anchor="middle" fill="#141414" stroke="#141414" stroke-width="0.28">PORT E (8)</text>
<rect x="616.5" y="667.5" width="15" height="62" fill="#fff" stroke="#1e1e1e" stroke-width="1.1"/>
<text x="627.9" y="699" font-size="9.5" font-weight="bold" text-anchor="middle" fill="#141414" stroke="#141414" stroke-width="0.28" transform="rotate(-90 627.9 699)">TCE0:1</text>
<rect x="635.5" y="667.5" width="15" height="62" fill="#fff" stroke="#1e1e1e" stroke-width="1.1"/>
<text x="646.4" y="699" font-size="9.5" font-weight="bold" text-anchor="middle" fill="#141414" stroke="#141414" stroke-width="0.28" transform="rotate(-90 646.4 699)">USARTE0:1</text>
<rect x="653.5" y="667.5" width="15" height="62" fill="#fff" stroke="#1e1e1e" stroke-width="1.1"/>
<text x="664.9" y="699" font-size="9.5" font-weight="bold" text-anchor="middle" fill="#141414" stroke="#141414" stroke-width="0.28" transform="rotate(-90 664.9 699)">SPIE</text>
<rect x="672.5" y="667.5" width="15" height="62" fill="#fff" stroke="#1e1e1e" stroke-width="1.1"/>
<text x="683.4" y="699" font-size="9.5" font-weight="bold" text-anchor="middle" fill="#141414" stroke="#141414" stroke-width="0.28" transform="rotate(-90 683.4 699)">TWIE</text>
</svg>
</body></html>
